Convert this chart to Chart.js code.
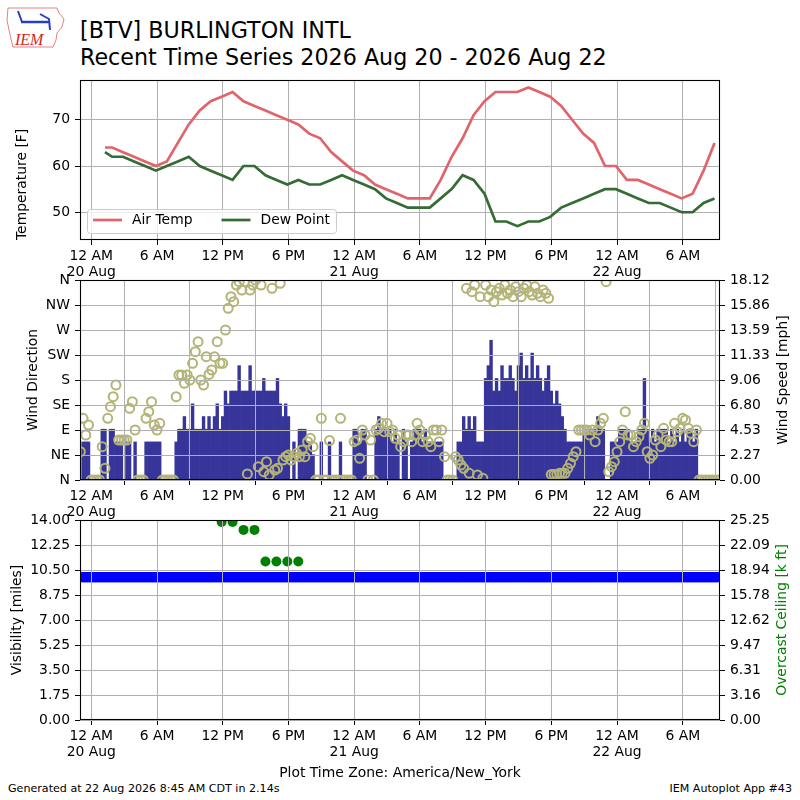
<!DOCTYPE html>
<html>
<head>
<meta charset="utf-8">
<title>BTV recent time series</title>
<script src="https://cdn.jsdelivr.net/npm/chart.js@4.4.1/dist/chart.umd.min.js"></script>
<style>
  html, body { margin: 0; padding: 0; background: #fff; }
  #page { position: relative; width: 800px; height: 800px; overflow: hidden; font-family: "DejaVu Sans", sans-serif; }
  canvas { position: absolute; left: 0; top: 0; }
  .txt { position: absolute; white-space: nowrap; color: #000; line-height: 1; }
</style>
</head>
<body>
<div id="page">
  <svg style="position:absolute;left:0;top:0" width="70" height="55">
    <path d="M8 8 L57 8 L59 13 L64 19 L62 27 L57 33 L56 40 L53 47 L13 47 L11 39 L9 30 L7 20 Z" fill="none" stroke="#e88080" stroke-width="1"/>
    <path d="M21 22 H49" stroke="#2a3fc0" stroke-width="2.5"/>
    <path d="M18 11 L22 22 M40 14 L49 19 L50 30" stroke="#2a3fc0" stroke-width="2" fill="none"/>
    <text x="15" y="45" font-family="Liberation Serif, DejaVu Serif, serif" font-style="italic" font-size="16" fill="#d42424">IEM</text>
  </svg>
  <div class="txt" style="left:80px; top:18.5px; font-size:22.2px">[BTV] BURLINGTON INTL</div>
  <div class="txt" style="left:80px; top:45.5px; font-size:22.2px">Recent Time Series 2026 Aug 20 - 2026 Aug 22</div>
  <div class="txt" style="left:8px; top:783px; font-size:11.1px">Generated at 22 Aug 2026 8:45 AM CDT in 2.14s</div>
  <div class="txt" style="right:8px; top:783px; font-size:11.1px">IEM Autoplot App #43</div>
  <canvas id="tempChart" width="800" height="800"></canvas>
  <canvas id="windChart" width="800" height="800"></canvas>
  <canvas id="visChart" width="800" height="800"></canvas>
</div>
<script>
// hours since 20 Aug 00:00 America/New_York
const hourTicks = [0, 6, 12, 18, 24, 30, 36, 42, 48, 54];
const hourTickLabels = [['12 AM', '20 Aug'], '6 AM', '12 PM', '6 PM', ['12 AM', '21 Aug'], '6 AM', '12 PM', '6 PM', ['12 AM', '22 Aug'], '6 AM'];

// hourly obs (first one is a special at 01:15)
const airTemp = [64,
  64, 63, 62, 61, 60, 61, 65, 69, 72, 74,
  75, 76, 74, 73, 72, 71, 70, 69, 67, 66,
  63, 61, 59, 58, 56, 55, 54, 53, 53, 53,
  57, 62, 66, 71, 74, 76, 76, 76, 77, 76,
  75, 73, 70, 67, 65, 60, 60, 57, 57, 56,
  55, 54, 53, 54, 59, 65];
const dewPoint = [63,
  62, 62, 61, 60, 59, 60, 61, 62, 60, 59,
  58, 57, 60, 60, 58, 57, 56, 57, 56, 56,
  57, 58, 57, 56, 55, 53, 52, 51, 51, 51,
  53, 55, 58, 57, 54, 48, 48, 47, 48, 48,
  49, 51, 52, 53, 54, 55, 55, 54, 53, 52,
  52, 51, 50, 50, 52, 53];
const tempTicks = [50, 60, 70];

// 15 minute samples starting 19 Aug 23:00
const windStartHour = -1;
const windStepHours = 0.25;
const windSpeedMph = [
  0, 3.45, 3.45, 3.45,
  0, 0, 0, 0,
  4.6, 4.6, 0, 4.6,
  4.6, 3.45, 3.45, 3.45,
  0, 3.45, 3.45, 0,
  3.45, 0, 0, 0,
  3.45, 3.45, 3.45, 3.45,
  3.45, 3.45, 0, 0,
  0, 0, 0, 3.45,
  4.6, 4.6, 5.75, 4.6,
  4.6, 6.9, 4.6, 4.6,
  4.6, 5.75, 4.6, 5.75,
  4.6, 5.75, 6.9, 4.6,
  5.75, 8.06, 6.9, 8.06,
  8.06, 8.06, 10.36, 8.06,
  8.06, 8.06, 10.36, 8.06,
  8.06, 8.06, 8.06, 9.2,
  8.06, 8.06, 8.06, 8.06,
  9.2, 6.9, 5.75, 6.9,
  5.75, 0, 3.45, 0,
  4.6, 4.6, 4.6, 3.45,
  3.45, 2.3, 0, 0,
  3.45, 0, 0, 3.45,
  0, 0, 0, 3.45,
  0, 0, 0, 0,
  4.6, 4.6, 3.45, 4.6,
  4.6, 0, 0, 0,
  4.6, 5.75, 4.6, 4.6,
  4.6, 4.6, 3.45, 4.6,
  3.45, 0, 4.6, 3.45,
  0, 3.45, 4.6, 4.6,
  4.6, 3.45, 4.6, 3.45,
  3.45, 3.45, 3.45, 3.45,
  3.45, 0, 0, 0,
  0, 0, 3.45, 3.45,
  5.75, 4.6, 5.75, 4.6,
  5.75, 3.45, 3.45, 3.45,
  9.2, 10.36, 12.66, 8.06,
  9.2, 8.06, 10.36, 9.2,
  9.2, 10.36, 9.2, 8.06,
  10.36, 11.5, 9.2, 10.36,
  9.2, 11.5, 9.2, 10.36,
  9.2, 8.06, 9.2, 10.36,
  8.06, 6.9, 8.06, 6.9,
  5.75, 4.6, 3.45, 3.45,
  3.45, 3.45, 3.45, 3.45,
  4.6, 4.6, 4.6, 4.6,
  4.6, 5.75, 4.6, 4.6,
  0, 0, 3.45, 3.45,
  3.45, 4.6, 4.6, 4.6,
  4.6, 3.45, 3.45, 3.45,
  4.6, 4.6, 9.2, 4.6,
  3.45, 4.6, 3.45, 4.6,
  4.6, 4.6, 4.6, 3.45,
  4.6, 3.45, 4.6, 3.45,
  4.6, 3.45, 4.6, 4.6,
  3.45, 4.6, 0, 0,
  0, 0, 0, 0,
  0, 0
];
const windDirDeg = [
  51, 111, 81, 99,
  0, 0, 0, 0,
  60, 21, 111, 132,
  150, 171, 72, 72,
  72, 72, 129, 141,
  90, 0, 0, 0,
  111, 123, 141, 99,
  90, 102, 0, 0,
  0, 0, 0, 150,
  189, 189, 174, 189,
  180, 210, 231, 249,
  180, 171, 222, 190,
  198, 222, 249, 210,
  210, 270, 309, 330,
  321, 351, 357, 342,
  357, 11, 342, 351,
  360, 24, 351, 15,
  33, 9, 345, 18,
  21, 354, 36, 42,
  45, 36, 42, 48,
  42, 54, 42, 69,
  75, 60, 0, 0,
  111, 0, 0, 71,
  0, 0, 0, 111,
  0, 0, 0, 0,
  69, 72, 39, 90,
  81, 0, 72, 0,
  90, 93, 102, 87,
  102, 87, 90, 75,
  81, 60, 69, 81,
  81, 69, 81, 102,
  90, 69, 81, 69,
  60, 90, 90, 69,
  90, 42, 0, 0,
  0, 42, 36, 27,
  21, 345, 12, 339,
  351, 9, 330, 3,
  351, 330, 342, 321,
  339, 345, 333, 351,
  336, 342, 330, 348,
  339, 330, 345, 351,
  339, 333, 348, 336,
  330, 342, 336, 327,
  10, 10, 10, 12,
  12, 12, 21, 30,
  42, 51, 90, 90,
  90, 90, 81, 90,
  69, 90, 102, 111,
  357, 15, 24, 33,
  51, 69, 90, 123,
  81, 81, 60, 69,
  78, 90, 102, 51,
  39, 45, 72, 81,
  60, 93, 72, 69,
  69, 102, 87, 93,
  111, 108, 93, 84,
  69, 90, 0, 0,
  0, 0, 0, 0,
  0, 0
];
const dirTicks = [0, 45, 90, 135, 180, 225, 270, 315, 360];
const dirTickLabels = ['N', 'NE', 'E', 'SE', 'S', 'SW', 'W', 'NW', 'N'];
const speedTicks = [0, 2.265, 4.53, 6.795, 9.06, 11.325, 13.59, 15.855, 18.12];
const speedTickLabels = ['0.00', '2.27', '4.53', '6.80', '9.06', '11.33', '13.59', '15.86', '18.12'];

// visibility on the same 15 minute grid
const visMiles = [
  10, 10, 10, 10, 10, 10, 10, 10, 10, 10, 10, 10, 10, 10, 10, 10, 10, 10,
  10, 10, 10, 10, 10, 10, 10, 10, 10, 10, 10, 10, 10, 10, 10, 10, 10, 10,
  10, 10, 10, 10, 10, 10, 10, 10, 10, 10, 10, 10, 10, 10, 10, 10, 10, 10,
  10, 10, 10, 10, 10, 10, 10, 10, 10, 10, 10, 10, 10, 10, 10, 10, 10, 10,
  10, 10, 10, 10, 10, 10, 10, 10, 10, 10, 10, 10, 10, 10, 10, 10, 10, 10,
  10, 10, 10, 10, 10, 10, 10, 10, 10, 10, 10, 10, 10, 10, 10, 10, 10, 10,
  10, 10, 10, 10, 10, 10, 10, 10, 10, 10, 10, 10, 10, 10, 10, 10, 10, 10,
  10, 10, 10, 10, 10, 10, 10, 10, 10, 10, 10, 10, 10, 10, 10, 10, 10, 10,
  10, 10, 10, 10, 10, 10, 10, 10, 10, 10, 10, 10, 10, 10, 10, 10, 10, 10,
  10, 10, 10, 10, 10, 10, 10, 10, 10, 10, 10, 10, 10, 10, 10, 10, 10, 10,
  10, 10, 10, 10, 10, 10, 10, 10, 10, 10, 10, 10, 10, 10, 10, 10, 10, 10,
  10, 10, 10, 10, 10, 10, 10, 10, 10, 10, 10, 10, 10, 10, 10, 10, 10, 10,
  10, 10, 10, 10, 10, 10, 10, 10, 10, 10, 10, 10, 10, 10, 10, 10, 10, 10
];
const ceilHours = [11.9, 12.9, 13.9, 14.9, 15.9, 16.9, 17.9, 18.9];
const ceilKft = [25, 25, 24, 24, 20, 20, 20, 20];
const visTicks = [0, 1.75, 3.5, 5.25, 7, 8.75, 10.5, 12.25, 14];
const visTickLabels = ['0.00', '1.75', '3.50', '5.25', '7.00', '8.75', '10.50', '12.25', '14.00'];
const ceilTicks = [0, 3.15625, 6.3125, 9.46875, 12.625, 15.78125, 18.9375, 22.09375, 25.25];
const ceilTickLabels = ['0.00', '3.16', '6.31', '9.47', '12.62', '15.78', '18.94', '22.09', '25.25'];

const X_MIN = -1.03;
const X_MAX = 57.4;
const FONT_SIZE = 13.9;

Chart.defaults.font.family = "'DejaVu Sans', sans-serif";
Chart.defaults.font.size = FONT_SIZE;
Chart.defaults.color = '#000';

const obsHours = [1.25].concat(airTemp.slice(1).map((_, i) => 1.9 + i));
const windHours = windSpeedMph.map((_, i) => windStartHour + i * windStepHours);

function timeAxis(title, gridZ) {
  return {
    type: 'linear', min: X_MIN, max: X_MAX, offset: false,
    afterBuildTicks: s => { s.ticks = hourTicks.map(v => ({ value: v })); },
    afterFit: s => { s.height = title ? 62 : 40; },
    ticks: { autoSkip: false, maxRotation: 0, padding: 4, font: { size: FONT_SIZE, lineHeight: 1.12 },
      callback: (v, i) => hourTickLabels[i] },
    grid: { color: '#b0b0b0', tickColor: '#000', tickLength: 5, z: gridZ },
    border: { display: false },
    title: { display: !!title, text: title, padding: 0 }
  };
}

function valueAxis(pos, min, max, values, labels, extra) {
  return Object.assign({
    type: 'linear', position: pos, min: min, max: max,
    afterBuildTicks: s => { s.ticks = values.map(v => ({ value: v })); },
    afterFit: s => { s.width = 80; },
    ticks: { autoSkip: false, padding: 5, callback: (v, i) => labels[i] },
    border: { display: false }
  }, extra);
}

const frame = {
  id: 'frame',
  afterDraw(chart) {
    const { ctx, chartArea: a } = chart;
    ctx.save();
    ctx.strokeStyle = '#000';
    ctx.lineWidth = 1.1;
    ctx.strokeRect(a.left + 0.5, a.top + 0.5, a.right - a.left - 1, a.bottom - a.top - 1);
    ctx.restore();
  }
};

// right hand axis titles read bottom to top, like the left ones
const sideTitle = {
  id: 'sideTitle',
  afterDraw(chart, args, opts) {
    if (!opts.text) return;
    const { ctx, chartArea: a } = chart;
    ctx.save();
    ctx.translate(opts.x, (a.top + a.bottom) / 2);
    ctx.rotate(-Math.PI / 2);
    ctx.font = FONT_SIZE + 'px "DejaVu Sans"';
    ctx.fillStyle = opts.color;
    ctx.textAlign = 'center';
    ctx.textBaseline = 'middle';
    ctx.fillText(opts.text, 0, 0);
    ctx.restore();
  }
};

const legendBox = {
  id: 'legendBox',
  afterDatasetsDraw(chart) {
    const { ctx, chartArea: a } = chart;
    const x = a.left + 7, y = a.bottom - 31, w = 249, h = 24;
    ctx.save();
    ctx.beginPath();
    ctx.roundRect(x + 0.5, y + 0.5, w, h, 3);
    ctx.fillStyle = 'rgba(255,255,255,0.8)';
    ctx.fill();
    ctx.strokeStyle = '#cccccc';
    ctx.lineWidth = 1;
    ctx.stroke();
    ctx.font = FONT_SIZE + 'px "DejaVu Sans"';
    ctx.textBaseline = 'middle';
    chart.data.datasets.forEach((ds, i) => {
      const sx = x + 6 + i * 128.5;
      ctx.beginPath();
      ctx.moveTo(sx, y + 11);
      ctx.lineTo(sx + 29, y + 11);
      ctx.strokeStyle = ds.borderColor;
      ctx.lineWidth = ds.borderWidth;
      ctx.stroke();
      ctx.fillStyle = '#000';
      ctx.fillText(ds.label, sx + 39, y + 11);
    });
    ctx.restore();
  }
};

const common = {
  responsive: false,
  animation: false,
  events: []
};

new Chart(document.getElementById('tempChart'), {
  type: 'line',
  data: {
    datasets: [{
      label: 'Air Temp',
      data: obsHours.map((x, i) => ({ x: x, y: airTemp[i] })),
      borderColor: '#e0646b',
      borderWidth: 2.7,
      pointRadius: 0
    }, {
      label: 'Dew Point',
      data: obsHours.map((x, i) => ({ x: x, y: dewPoint[i] })),
      borderColor: '#356b35',
      borderWidth: 2.7,
      pointRadius: 0
    }]
  },
  options: Object.assign({}, common, {
    layout: { padding: { top: 80, bottom: 520, left: 0, right: 80 } },
    plugins: { legend: { display: false }, tooltip: { enabled: false } },
    scales: {
      x: timeAxis(null, -1),
      y: valueAxis('left', 44, 78.6, tempTicks, tempTicks, {
        grid: { color: '#b0b0b0', tickColor: '#000', tickLength: 5 },
        title: { display: true, text: 'Temperature [F]', align: 'start', padding: { top: 14.2 } }
      })
    }
  }),
  plugins: [legendBox, frame]
});

new Chart(document.getElementById('windChart'), {
  type: 'bar',
  data: {
    datasets: [{
      type: 'line',
      label: 'Wind Direction',
      data: windHours.map((x, i) => ({ x: x, y: windDirDeg[i] })),
      yAxisID: 'yDir',
      showLine: false,
      pointRadius: 4.5,
      pointBorderWidth: 2,
      pointBackgroundColor: 'rgba(0,0,0,0)',
      pointBorderColor: '#b4b477',
      clip: 0,
      order: 0
    }, {
      type: 'bar',
      label: 'Wind Speed',
      data: windHours.map((x, i) => ({ x: x, y: windSpeedMph[i] })),
      yAxisID: 'ySpeed',
      backgroundColor: '#37359a',
      barPercentage: 1,
      categoryPercentage: 1,
      order: 1
    }]
  },
  options: Object.assign({}, common, {
    layout: { padding: { top: 280, bottom: 280, left: 0, right: 0 } },
    plugins: {
      legend: { display: false }, tooltip: { enabled: false },
      sideTitle: { text: 'Wind Speed [mph]', color: '#000', x: 783 }
    },
    scales: {
      x: timeAxis(null, 1),
      yDir: valueAxis('left', 0, 360, dirTicks, dirTickLabels, {
        grid: { color: '#b0b0b0', tickColor: '#000', tickLength: 5, z: 1 },
        title: { display: true, text: 'Wind Direction', padding: { top: 24.7 } }
      }),
      ySpeed: valueAxis('right', 0, 18.12, speedTicks, speedTickLabels, {
        grid: { drawOnChartArea: false, tickColor: '#000', tickLength: 5 }
      })
    }
  }),
  plugins: [frame, sideTitle]
});

new Chart(document.getElementById('visChart'), {
  type: 'line',
  data: {
    datasets: [{
      label: 'Visibility',
      data: visMiles.map((v, i) => ({ x: windHours[i], y: v })),
      yAxisID: 'yVis',
      showLine: false,
      pointStyle: 'rect',
      pointRadius: 7.07,
      pointBorderWidth: 0,
      pointBackgroundColor: '#0000ff',
      clip: 0
    }, {
      label: 'Overcast Ceiling',
      data: ceilHours.map((x, i) => ({ x: x, y: ceilKft[i] })),
      yAxisID: 'yCeil',
      showLine: false,
      pointRadius: 5,
      pointBorderWidth: 0,
      pointBackgroundColor: '#008000',
      clip: 0
    }]
  },
  options: Object.assign({}, common, {
    layout: { padding: { top: 520, bottom: 18, left: 0, right: 0 } },
    plugins: {
      legend: { display: false }, tooltip: { enabled: false },
      sideTitle: { text: 'Overcast Ceiling [k ft]', color: '#008000', x: 782 }
    },
    scales: {
      x: timeAxis('Plot Time Zone: America/New_York', 1),
      yVis: valueAxis('left', 0, 14, visTicks, visTickLabels, {
        grid: { color: '#b0b0b0', tickColor: '#000', tickLength: 5, z: 1 },
        title: { display: true, text: 'Visibility [miles]', padding: { top: 9.2 } }
      }),
      yCeil: valueAxis('right', 0, 25.25, ceilTicks, ceilTickLabels, {
        grid: { drawOnChartArea: false, tickColor: '#000', tickLength: 5 }
      })
    }
  }),
  plugins: [frame, sideTitle]
});
</script>
</body>
</html>
